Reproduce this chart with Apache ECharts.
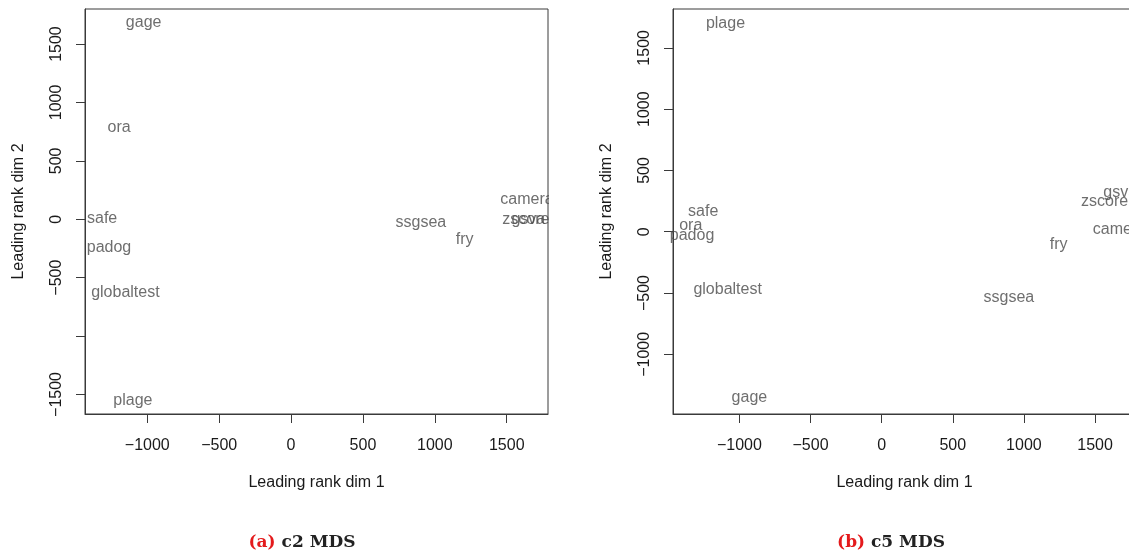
<!DOCTYPE html>
<html>
<head>
<meta charset="utf-8">
<title>MDS</title>
<script src="https://cdn.jsdelivr.net/npm/echarts@6/dist/echarts.min.js"></script>
<style>
  html, body { margin: 0; padding: 0; background: #fff; }
  #main { width: 1129px; height: 550px; }
</style>
</head>
<body>
<div id="main"></div>
<script>
// (a) c2 MDS
var names1 = ['gage', 'ora', 'safe', 'padog', 'globaltest', 'plage', 'ssgsea', 'fry', 'camera', 'zscore', 'gsva'];
var dim1a = [-1025, -1196, -1314, -1266, -1152, -1100, 903, 1207, 1641, 1633, 1650];
var dim2a = [1680, 785, 10, -240, -630, -1550, -25, -171, 165, 0, 0];

// (b) c5 MDS
var names2 = ['plage', 'safe', 'ora', 'padog', 'globaltest', 'gage', 'ssgsea', 'fry', 'camera', 'zscore', 'gsva'];
var dim1b = [-1098, -1255, -1342, -1333, -1083, -930, 894, 1244, 1672, 1567, 1677];
var dim2b = [1700, 165, 50, -35, -475, -1351, -535, -109, 18, 242, 323];

var xTicks = [-1000, -500, 0, 500, 1000, 1500];
var yTicksA = [-1500, -1000, -500, 0, 500, 1000, 1500];
var yLabelsA = [-1500, -500, 0, 500, 1000, 1500];
var yTicksB = [-1000, -500, 0, 500, 1000, 1500];

var font = 'Liberation Sans';
var axisCol = '#3a3a3a';

function pts(names, xs, ys) {
    return names.map(function (n, i) { return { name: n, value: [xs[i], ys[i]] }; });
}

// R style numbers: no thousands separator, real minus sign
function num(v) { return String(v).replace('-', '\u2212'); }

function xAx(idx, min, max) {
    return {
        type: 'value', gridIndex: idx, min: min, max: max,
        name: 'Leading rank dim 1', nameLocation: 'middle', nameGap: 69,
        nameTextStyle: { fontFamily: font, fontSize: 16, color: '#1a1a1a', align: 'center', verticalAlign: 'middle' },
        axisLine: { show: true, onZero: false, lineStyle: { color: axisCol } },
        axisTick: { show: true, length: 9, lineStyle: { color: axisCol }, customValues: xTicks },
        axisLabel: { fontFamily: font, fontSize: 16, color: '#1a1a1a', margin: 32, verticalAlign: 'middle',
            customValues: xTicks, formatter: num },
        splitLine: { show: false }
    };
}

function yAx(idx, min, max, ticks, labels) {
    return {
        type: 'value', gridIndex: idx, min: min, max: max,
        name: 'Leading rank dim 2', nameLocation: 'middle', nameGap: 66, nameRotate: 90,
        nameTextStyle: { fontFamily: font, fontSize: 16, color: '#1a1a1a', align: 'center', verticalAlign: 'middle' },
        axisLine: { show: true, onZero: false, lineStyle: { color: axisCol } },
        axisTick: { show: true, length: 9, lineStyle: { color: axisCol }, customValues: ticks },
        axisLabel: { fontFamily: font, fontSize: 16, color: '#1a1a1a', margin: 28, rotate: 90,
            align: 'center', verticalAlign: 'middle', customValues: labels, formatter: num },
        splitLine: { show: false }
    };
}

function labels(idx, data) {
    return {
        type: 'scatter', xAxisIndex: idx, yAxisIndex: idx,
        symbolSize: 1, itemStyle: { color: 'rgba(0,0,0,0)' },
        label: { show: true, position: 'inside', formatter: '{b}',
            fontFamily: font, fontSize: 16, color: '#4a4a4a' },
        emphasis: { disabled: true },
        data: data
    };
}

var capStyle = { fontFamily: 'DejaVu Serif', fontSize: 17, fontWeight: 'bold', color: '#222',
    rich: { r: { fontFamily: 'DejaVu Serif', fontSize: 17, fontWeight: 'bold', color: '#e41a1c' } } };

var chart = echarts.init(document.getElementById('main'), null, { renderer: 'canvas' });
chart.setOption({
    animation: false,
    backgroundColor: '#ffffff',
    grid: [
        { left: 85, top: 9, width: 463, height: 405, outerBoundsMode: 'none',
          show: true, borderColor: axisCol, borderWidth: 1, backgroundColor: 'transparent' },
        { left: 673, top: 9, width: 463, height: 405, outerBoundsMode: 'none',
          show: true, borderColor: axisCol, borderWidth: 1, backgroundColor: 'transparent' }
    ],
    xAxis: [xAx(0, -1433, 1787), xAx(1, -1467, 1788)],
    yAxis: [yAx(0, -1667, 1800, yTicksA, yLabelsA), yAx(1, -1487, 1817, yTicksB, yTicksB)],
    series: [labels(0, pts(names1, dim1a, dim2a)), labels(1, pts(names2, dim1b, dim2b))],
    title: [
        { text: '{r|(a)} c2 MDS', left: 297, top: 529, textAlign: 'center', textStyle: capStyle },
        { text: '{r|(b)} c5 MDS', left: 886, top: 529, textAlign: 'center', textStyle: capStyle }
    ],
    // clip labels at the right edge of the first box, like R does
    graphic: [
        { type: 'rect', z: 100, shape: { x: 549, y: 150, width: 40, height: 100 }, style: { fill: '#ffffff' } }
    ]
});
</script>
</body>
</html>
